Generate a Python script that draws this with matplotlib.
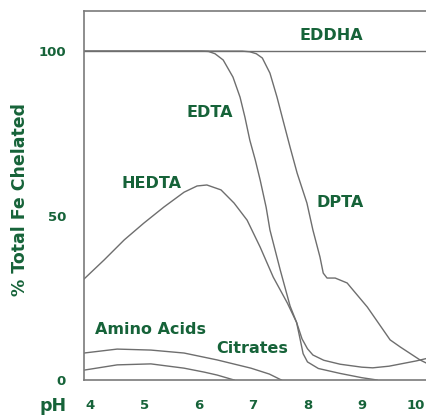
import matplotlib
matplotlib.use("Agg")
import matplotlib.pyplot as plt
import numpy as np

GREEN = "#166339"
LINE = "#6e6e6e"

# curves (pH, % total Fe chelated)
eddha_x = [3.89, 10.18]
eddha_y = [100, 100]

edta_x = [3.89, 6.05, 6.18, 6.30, 6.45, 6.63, 6.76, 6.85, 6.94, 7.04, 7.13, 7.24, 7.31,
          7.50, 7.68, 7.80, 7.87, 7.92, 8.00, 8.20, 8.60, 9.00, 9.28]
edta_y = [100, 100, 99.9, 99.2, 97.3, 92.1, 86.0, 79.9, 72.9, 66.9, 60.8, 52.5, 45.6,
          33.4, 22.5, 17.5, 12.0, 8.0, 5.5, 3.5, 2.0, 0.7, 0]

hedta_x = [3.89, 4.26, 4.63, 4.99, 5.36, 5.73, 5.97, 6.15, 6.41, 6.65, 6.89, 7.13,
           7.37, 7.63, 7.80, 7.90, 8.00, 8.10, 8.30, 8.60, 9.00, 9.20, 9.50, 10.00, 10.18]
hedta_y = [30.7, 36.5, 42.6, 47.7, 52.6, 57.1, 59.0, 59.3, 57.8, 53.8, 48.6, 40.4,
           31.3, 23.4, 17.5, 12.5, 9.5, 7.6, 6.0, 4.8, 3.9, 3.7, 4.2, 5.8, 6.5]

dpta_x = [3.89, 6.80, 6.94, 7.06, 7.17, 7.31, 7.44, 7.55, 7.68, 7.81, 7.99, 8.10, 8.23,
          8.29, 8.36, 8.51, 8.73, 8.79, 9.10, 9.52, 9.71, 10.07, 10.18]
dpta_y = [100, 100, 99.8, 99.2, 97.9, 93.3, 86.0, 79.0, 70.8, 62.9, 53.8, 45.6, 37.4,
          32.5, 31.0, 31.0, 29.5, 28.3, 22.2, 12.2, 10.0, 6.1, 5.2]

amino_x = [3.89, 4.50, 5.12, 5.73, 6.34, 6.96, 7.30, 7.52]
amino_y = [8.2, 9.4, 9.1, 8.2, 6.1, 3.6, 1.8, 0]

citrate_x = [3.89, 4.50, 5.12, 5.73, 6.10, 6.34, 6.65]
citrate_y = [3.0, 4.6, 4.9, 3.6, 2.4, 1.5, 0]

xticks = [4, 5, 6, 7, 8, 9, 10]
yticks = [0, 50, 100]

# label text and where it sits
labels = ["EDDHA", "EDTA", "HEDTA", "DPTA", "Amino Acids", "Citrates"]
label_x = [8.44, 6.21, 5.14, 8.60, 5.12, 6.98]
label_y = [104.6, 81.2, 59.9, 54.1, 15.5, 9.7]

fig = plt.figure(figsize=(4.26, 4.15), dpi=100)
ax = fig.add_axes([84 / 426, 35 / 415, 1 - 84 / 426, (380 - 11) / 415])

for xs, ys in [(eddha_x, eddha_y), (edta_x, edta_y), (hedta_x, hedta_y),
               (dpta_x, dpta_y), (amino_x, amino_y), (citrate_x, citrate_y)]:
    ax.plot(xs, ys, color=LINE, lw=1.0, solid_joinstyle="round")

ax.set_xlim(3.89, 10.18)
ax.set_ylim(0, 112.2)
ax.set_xticks(xticks)
ax.set_yticks(yticks)
ax.tick_params(length=0, labelcolor=GREEN, labelsize=9.5)
ax.tick_params(axis="x", pad=14)
ax.tick_params(axis="y", pad=13)
for lab in ax.get_xticklabels() + ax.get_yticklabels():
    lab.set_fontweight("bold")

for side in ["left", "bottom", "top"]:
    ax.spines[side].set_color("#7a7a7a")
    ax.spines[side].set_linewidth(1.2)
ax.spines["right"].set_visible(False)

for t, x, y in zip(labels, label_x, label_y):
    ax.text(x, y, t, color=GREEN, fontsize=11.5, fontweight="bold",
            ha="center", va="center")

fig.text(53 / 426, 1 - 406 / 415, "pH", color=GREEN, fontsize=12.5,
         fontweight="bold", ha="center", va="center")
fig.text(20 / 426, 1 - 200 / 415, "% Total Fe Chelated", color=GREEN,
         fontsize=12.5, fontweight="bold", ha="center", va="center", rotation=90)

fig.savefig("out.png", dpi=100)
